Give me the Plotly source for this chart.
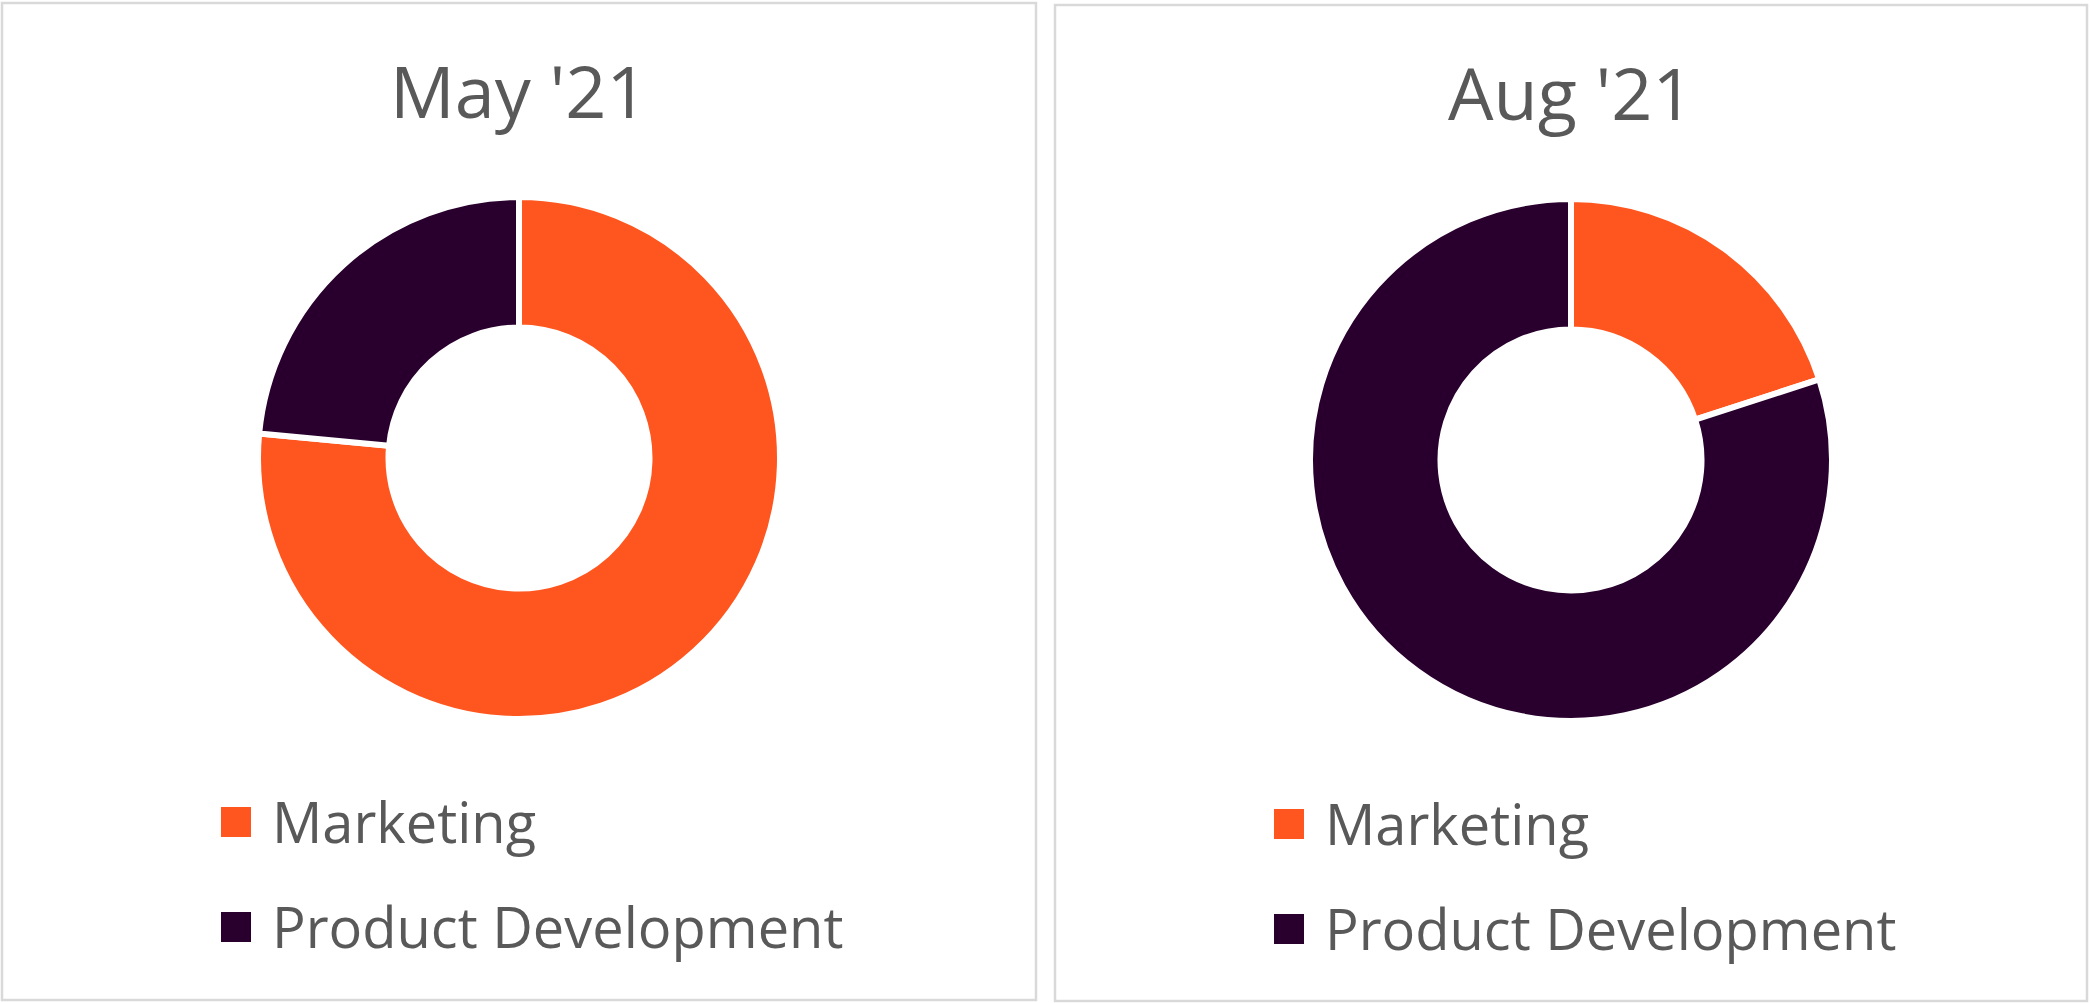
import plotly.graph_objects as go

# ---- data ----
categories = ["Marketing", "Product Development"]
panel_titles = ["May '21", "Aug '21"]
may_values = [76.5, 23.5]
aug_values = [20, 80]
slice_colors = ["#FF551E", "#29002D"]

W, H = 2090, 1003
FONT = "Open Sans"
TEXT_COLOR = "#595959"

def px(x):
    return x / W

def py(y):
    return 1 - y / H

# panel geometry (pixels)
panels = [
    dict(x0=2, y0=3, x1=1036, y1=1000, cx=519, cy=458),
    dict(x0=1055, y0=5, x1=2087, y1=1001, cx=1571, cy=460),
]
R = 261  # pie radius incl. border stroke

fig = go.Figure()
shapes = []
annotations = []

for i, (vals, title, p) in enumerate(zip([may_values, aug_values], panel_titles, panels)):
    fig.add_trace(go.Pie(
        labels=categories,
        values=vals,
        hole=0.5,
        sort=False,
        direction="clockwise",
        rotation=0,
        textinfo="none",
        showlegend=False,
        marker=dict(colors=slice_colors, line=dict(color="white", width=6)),
        domain=dict(x=[px(p["cx"] - R), px(p["cx"] + R)],
                    y=[py(p["cy"] + R), py(p["cy"] - R)]),
        name=title,
    ))
    # panel border
    shapes.append(dict(type="rect", xref="paper", yref="paper",
                       x0=px(p["x0"]), x1=px(p["x1"]), y0=py(p["y1"]), y1=py(p["y0"]),
                       line=dict(color="#D9D9D9", width=2.5), fillcolor="rgba(0,0,0,0)",
                       layer="below"))
    # title
    annotations.append(dict(text=title, xref="paper", yref="paper",
                            x=px((p["x0"] + p["x1"]) / 2), y=py(p["y0"] + 87),
                            xanchor="center", yanchor="middle", showarrow=False,
                            font=dict(family=FONT, size=72, color=TEXT_COLOR)))
    # legend
    for j, (cat, col) in enumerate(zip(categories, slice_colors)):
        sy = p["y0"] + 819 + j * 105
        sx = p["x0"] + 219
        shapes.append(dict(type="rect", xref="paper", yref="paper",
                           x0=px(sx), x1=px(sx + 30), y0=py(sy + 15), y1=py(sy - 15),
                           line=dict(width=0), fillcolor=col))
        annotations.append(dict(text=cat, xref="paper", yref="paper",
                                x=px(sx + 49), y=py(sy - 1),
                                xanchor="left", yanchor="middle", showarrow=False,
                                font=dict(family=FONT, size=56, color=TEXT_COLOR)))

fig.update_layout(
    width=W, height=H,
    margin=dict(l=0, r=0, t=0, b=0),
    paper_bgcolor="white",
    plot_bgcolor="white",
    shapes=shapes,
    annotations=annotations,
)

fig.write_html("out.html", config={"displayModeBar": False})
